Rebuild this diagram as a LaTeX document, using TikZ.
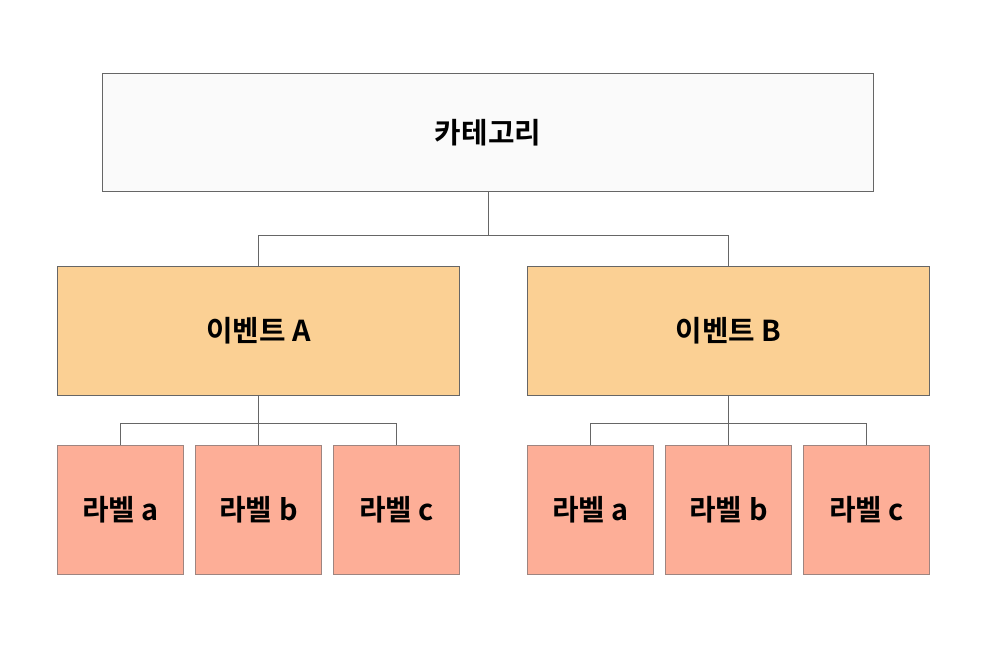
\documentclass[tikz,border=0pt]{standalone}
\usepackage{fontspec}
\setmainfont{Noto Sans CJK KR Bold}
\usetikzlibrary{calc}
\definecolor{catfill}{HTML}{FAFAFA}
\definecolor{evfill}{HTML}{FBD094}
\definecolor{lbfill}{HTML}{FDAE97}
\definecolor{boxline}{HTML}{666666}
\definecolor{lbline}{HTML}{9E8580}
\tikzset{
  tree/.style={x=0.025cm, y=-0.025cm, line width=0.7pt},
  catbox/.style={draw=boxline, fill=catfill, minimum width=19.25cm, minimum height=2.925cm,
    inner sep=0pt, font=\fontsize{20.5}{24}\selectfont},
  evbox/.style={draw=boxline, fill=evfill, minimum width=10.025cm, minimum height=3.2cm,
    inner sep=0pt, font=\fontsize{20.5}{24}\selectfont},
  lbbox/.style={draw=lbline, fill=lbfill, minimum width=3.125cm, minimum height=3.2cm,
    inner sep=0pt, font=\fontsize{20.5}{24}\selectfont},
  link/.style={draw=boxline, line width=0.7pt},
}

\begin{document}
\begin{tikzpicture}[tree]
  \useasboundingbox (0,0) rectangle (988,648);
  % top: category
  \node[catbox] (cat) at (488,132.5) {카테고리};
  % events
  \node[evbox] (evA) at (258.5,331) {이벤트 A};
  \node[evbox] (evB) at (728.5,331) {이벤트 B};
  % labels under event A
  \node[lbbox] (la1) at (120.5,510) {라벨 a};
  \node[lbbox] (la2) at (258.5,510) {라벨 b};
  \node[lbbox] (la3) at (396.5,510) {라벨 c};
  % labels under event B
  \node[lbbox] (lb1) at (590.5,510) {라벨 a};
  \node[lbbox] (lb2) at (728.5,510) {라벨 b};
  \node[lbbox] (lb3) at (866.5,510) {라벨 c};
  % branch points
  \coordinate (jc) at (488,235);
  \coordinate (ja) at (258.5,423);
  \coordinate (jb) at (728.5,423);
  % connectors
  \draw[link] (cat.south) -- (jc) -| (evA.north);
  \draw[link] (jc) -| (evB.north);
  \draw[link] (evA.south) -- (ja) -| (la1.north);
  \draw[link] (ja) -| (la3.north);
  \draw[link] (ja) -- (la2.north);
  \draw[link] (evB.south) -- (jb) -| (lb1.north);
  \draw[link] (jb) -| (lb3.north);
  \draw[link] (jb) -- (lb2.north);
\end{tikzpicture}
\end{document}
